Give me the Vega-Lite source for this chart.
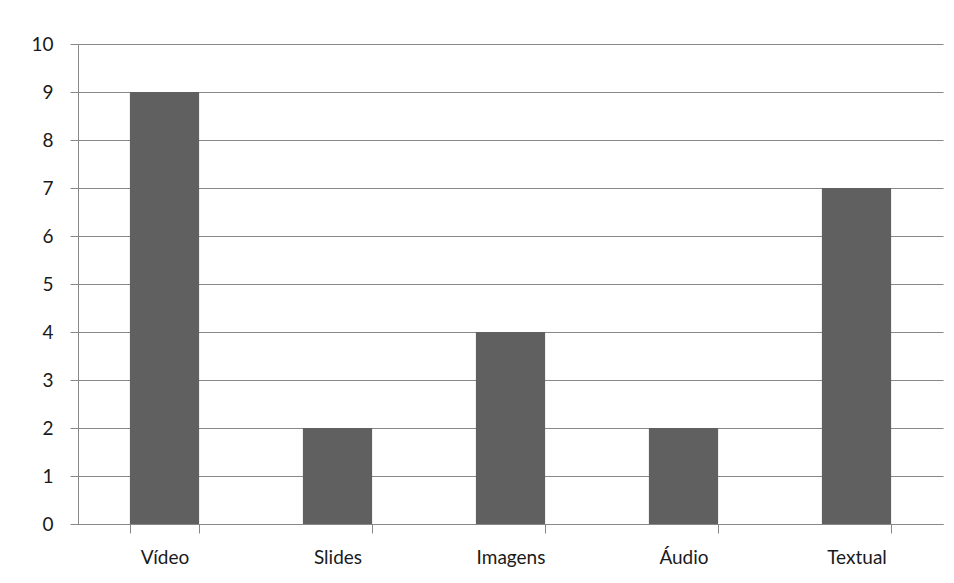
{
  "$schema": "https://vega.github.io/schema/vega-lite/v6.json",
  "width": 865,
  "height": 480,
  "autosize": {"type": "none"},
  "padding": {"left": 78, "top": 44, "right": 11, "bottom": 59},
  "background": "white",
  "data": {"values": [
    {"categoria": "Vídeo", "valor": 9},
    {"categoria": "Slides", "valor": 2},
    {"categoria": "Imagens", "valor": 4},
    {"categoria": "Áudio", "valor": 2},
    {"categoria": "Textual", "valor": 7}
  ]},
  "mark": {"type": "bar", "color": "#606060"},
  "encoding": {
    "x": {
      "field": "categoria", "type": "nominal", "sort": null,
      "scale": {"paddingInner": 0.6, "paddingOuter": 0.3},
      "axis": {"title": null, "labelAngle": 0, "tickBand": "extent", "tickSize": 9, "labelPadding": 15, "domainColor": "#888888", "tickColor": "#888888"}
    },
    "y": {
      "field": "valor", "type": "quantitative",
      "scale": {"domain": [0, 10], "nice": false},
      "axis": {"title": null, "values": [0,1,2,3,4,5,6,7,8,9,10], "tickSize": 8, "labelPadding": 17, "domainColor": "#888888", "tickColor": "#888888", "gridColor": "#888888", "grid": true}
    }
  },
  "config": {
    "view": {"stroke": null},
    "axis": {"labelFont": "Lato", "labelFontSize": 19, "labelColor": "#1a1a1a", "domainWidth": 1, "gridWidth": 1, "gridOpacity": 1}
  }
}
